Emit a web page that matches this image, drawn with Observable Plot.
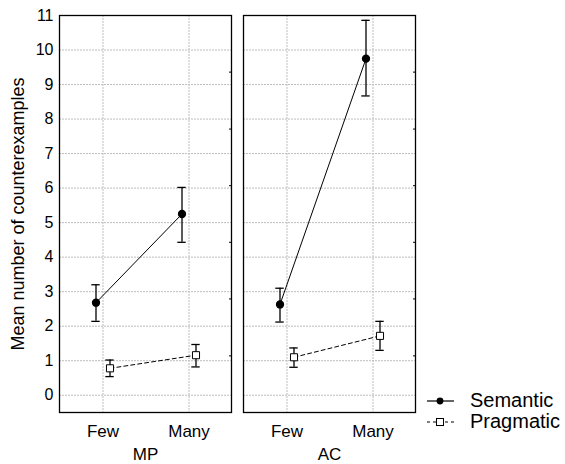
<!DOCTYPE html>
<html><head><meta charset="utf-8">
<script src="https://cdn.jsdelivr.net/npm/d3@7"></script>
<script src="https://cdn.jsdelivr.net/npm/@observablehq/plot@0.6"></script>
<style>
body{margin:0;background:#fff;font-family:"Liberation Sans",Arial,sans-serif;}
#wrap{position:relative;width:565px;height:464px;}
#legend{position:absolute;left:427px;top:390px;font-size:20px;line-height:21px;color:#000;}
#legend .row{display:flex;align-items:center;height:21px;}
#legend svg{margin-right:16px;}
</style></head><body><div id="wrap"></div>
<script>
const panels = ["MP", "AC"];
const levels = ["Few", "Many"];
const seriesNames = ["Semantic", "Pragmatic"];
// order: MP-Few, MP-Many, AC-Few, AC-Many
const semanticMean = [2.68, 5.25, 2.63, 9.75];
const semanticLow  = [2.14, 4.43, 2.12, 8.67];
const semanticHigh = [3.20, 6.02, 3.10, 10.86];
const pragmaticMean = [0.78, 1.16, 1.10, 1.72];
const pragmaticLow  = [0.54, 0.82, 0.81, 1.30];
const pragmaticHigh = [1.02, 1.47, 1.37, 2.14];
const yTicks = [0, 1, 2, 3, 4, 5, 6, 7, 8, 9, 10, 11];
const rightTicks = [1.14, 2.79, 4.43, 6.07, 7.71, 9.36];
const yLabel = "Mean number of counterexamples";

function rows(mean, low, high, s) {
  const out = [];
  panels.forEach((p, i) => levels.forEach((l, j) => {
    const k = i * 2 + j;
    out.push({panel: p, level: l, series: s, mean: mean[k], low: low[k], high: high[k]});
  }));
  return out;
}
const sem = rows(semanticMean, semanticLow, semanticHigh, seriesNames[0]);
const prag = rows(pragmaticMean, pragmaticLow, pragmaticHigh, seriesNames[1]);

const gridStyle = {stroke: "#bdbdbd", strokeOpacity: 1, strokeDasharray: "2,1"};
const common = {fx: "panel", x: "level"};
const cap = {insetLeft: 0.3, insetRight: 0.3, stroke: "black", strokeWidth: 1.3};

const chart = Plot.plot({
  width: 565,
  height: 464,
  marginLeft: 59,
  marginRight: 149,
  marginTop: 15,
  marginBottom: 52,
  style: {fontFamily: "Liberation Sans, Arial, sans-serif", color: "#000", background: "#fff"},
  fx: {domain: panels, paddingInner: 0.065, paddingOuter: 0},
  x: {type: "band", domain: levels, paddingInner: 0.9, paddingOuter: 0.45},
  y: {domain: [-0.5, 11]},
  marks: [
    Plot.gridY(yTicks, gridStyle),
    Plot.gridX(gridStyle),
    Plot.line(sem, {...common, y: "mean", dx: -7, stroke: "black", strokeWidth: 1}),
    Plot.line(prag, {...common, y: "mean", dx: 7, stroke: "black", strokeWidth: 1, strokeDasharray: "4,3"}),
    Plot.ruleX(sem, {...common, y1: "low", y2: "high", dx: -7, stroke: "black", strokeWidth: 1.3}),
    Plot.ruleX(prag, {...common, y1: "low", y2: "high", dx: 7, stroke: "black", strokeWidth: 1.3}),
    Plot.tickY(sem, {...common, y: "low", dx: -7, ...cap}),
    Plot.tickY(sem, {...common, y: "high", dx: -7, ...cap}),
    Plot.tickY(prag, {...common, y: "low", dx: 7, ...cap}),
    Plot.tickY(prag, {...common, y: "high", dx: 7, ...cap}),
    Plot.dot(sem, {...common, y: "mean", dx: -7, r: 3.4, symbol: "circle", fill: "black", stroke: "black"}),
    Plot.dot(prag, {...common, y: "mean", dx: 7, r: 4, symbol: "square", fill: "white", stroke: "black", strokeWidth: 1}),
    Plot.frame({stroke: "black", strokeWidth: 1.3}),
    Plot.axisY(rightTicks, {anchor: "right", facetAnchor: null, tickSize: -3, tickFormat: () => "", label: null, stroke: "black"}),
    Plot.axisY(yTicks, {anchor: "left", tickSize: 0, tickPadding: 6, fontSize: 16, label: null}),
    Plot.axisY([], {anchor: "left", tickSize: 0, fontSize: 18,
      label: yLabel, labelAnchor: "center", labelArrow: "none", labelOffset: 48}),
    Plot.axisX({anchor: "bottom", tickSize: 0, tickPadding: 12, fontSize: 17, label: null}),
    Plot.axisFx({anchor: "bottom", tickSize: 0, tickPadding: 35, fontSize: 17, label: null})
  ]
});
const wrap = document.getElementById("wrap");
wrap.appendChild(chart);

const legend = document.createElement("div");
legend.id = "legend";
legend.innerHTML =
  `<div class="row"><svg width="27" height="12"><line x1="0" x2="27" y1="6" y2="6" stroke="black" stroke-width="1.2"/><circle cx="13" cy="6" r="3.4" fill="black"/></svg><span>${seriesNames[0]}</span></div>` +
  `<div class="row"><svg width="27" height="12"><line x1="0" x2="27" y1="6" y2="6" stroke="black" stroke-width="1" stroke-dasharray="3,3"/><rect x="9.5" y="2.5" width="7" height="7" fill="white" stroke="black"/></svg><span>${seriesNames[1]}</span></div>`;
wrap.appendChild(legend);
</script></body></html>
